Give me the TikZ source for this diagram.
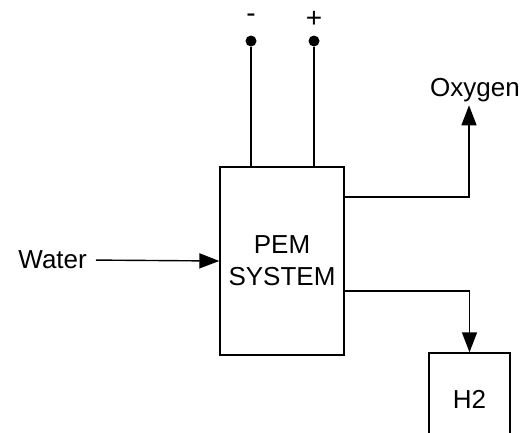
\documentclass[tikz,border=0pt]{standalone}
\usepackage{fontspec}
\setmainfont{Liberation Sans}
\usetikzlibrary{positioning, arrows.meta, calc}

\begin{document}
\begin{tikzpicture}[x=1pt, y=-1pt,
    every node/.style={font=\fontsize{26}{32}\selectfont},
    wire/.style={line width=1.4pt},
    arr/.style={wire, -{Triangle[length=20pt,width=15pt]}},
    blockbox/.style={draw, line width=1.4pt, rectangle, align=center},
    term/.style={circle, fill=black, inner sep=0pt, minimum size=11pt},
    polelbl/.style={font=\fontsize{28}{32}\selectfont}]
    \useasboundingbox (0,0) rectangle (521,432);
    \clip (0,0) rectangle (521,432);

    % PEM unit and hydrogen tank
    \node[blockbox, minimum width=124pt, minimum height=188pt] (pem) at (282,261) {PEM\\SYSTEM};
    \node[blockbox, minimum width=81pt, minimum height=92pt] (h2) at (469.5,399) {H2};

    % labels
    \node[anchor=east, inner sep=0pt] (water) at (87,260) {Water};
    \node (oxygen) at (475,90) {Oxygen};
    \node[polelbl] (minuslbl) at (251,18) {-};
    \node[polelbl] (pluslbl) at (314,19) {+};

    % terminals
    \node[term] (minus) at (251,41) {};
    \node[term] (plus) at (314,41) {};
    \draw[wire] (minus) -- (minus |- pem.north);
    \draw[wire] (plus) -- (plus |- pem.north);

    % flows
    \draw[arr, shorten <=9pt] (water.east) -- (pem.west);
    \draw[arr] (pem.east |- 0,197) -| ([xshift=-6pt]oxygen.south);
    \draw[arr] (pem.east |- 0,291) -| (h2.north);
\end{tikzpicture}
\end{document}
